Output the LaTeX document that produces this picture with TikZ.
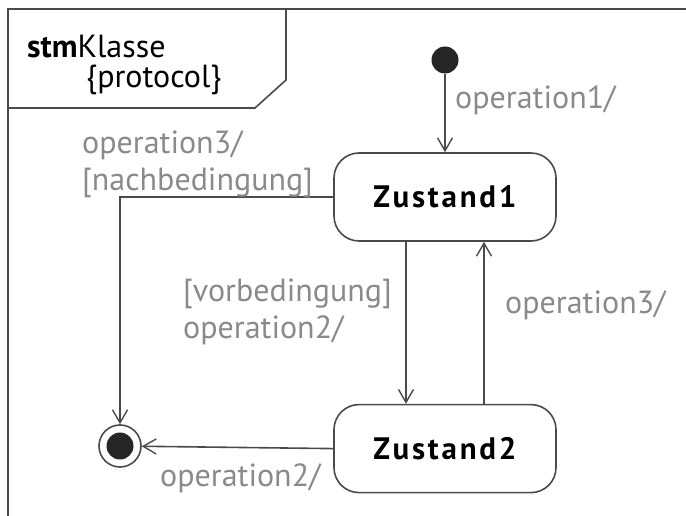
\documentclass[tikz,border=0pt]{standalone}
\usepackage{fontspec}
\setmainfont{PT Sans}
\usepackage{xcolor}
\usepackage{tikz}
\usetikzlibrary{arrows.meta,positioning}
\definecolor{framegray}{HTML}{4A4A4A}
\definecolor{labelgray}{HTML}{8A8A8A}
\tikzset{
  zustand/.style={
    rectangle,
    rounded corners=25pt,
    draw=framegray,
    line width=1.6pt,
    minimum width=222pt,
    minimum height=88pt,
    align=center,
    font=\fontsize{31}{36}\selectfont\bfseries\addfontfeature{LetterSpace=9}
  },
  trans/.style={
    text=labelgray,
    align=left,
    inner sep=0pt,
    anchor=west,
    font=\fontsize{32}{37}\selectfont
  },
  arrow/.style={-{Straight Barb[length=13pt,width=15pt,line width=1.4pt]}, line width=1.6pt, draw=framegray}
}

\begin{document}
\begin{tikzpicture}[x=1pt,y=-1pt]

\useasboundingbox (0,0) rectangle (686,516);

% frame and header
\draw[framegray, line width=2pt] (686,9) -- (8,9) -- (8,516);
\draw[framegray, line width=1.6pt] (8,108) -- (255,108) -- (286,80) -- (286,9);
\node[anchor=base west, inner sep=0pt, font=\fontsize{32}{37}\selectfont] (title) at (27,58) {\textbf{stm}Klasse};
\node[anchor=base west, inner sep=0pt, font=\fontsize{32}{37}\selectfont] (proto) at (86,88) {\{protocol\}};

% states
\node[circle, fill=black!85, minimum size=27pt, inner sep=0pt] (init) at (445,60) {};
\node[zustand] (zustand1) at (445,197) {Zustand1};
\node[zustand, below=162pt of zustand1] (zustand2) {Zustand2};
\node[circle, draw=framegray, line width=1.6pt, minimum size=42pt, inner sep=0pt] (final) at (120,446) {};
\node[circle, fill=black!85, minimum size=27pt, inner sep=0pt] (finaldot) at (final) {};

% transitions
\draw[arrow] (init) -- (init |- zustand1.north);
\draw[arrow] (zustand1.west) -| (final);
\draw[arrow] ([xshift=-39pt]zustand1.south) -- ([xshift=-39pt]zustand2.north);
\draw[arrow] ([xshift=39pt]zustand2.north) -- ([xshift=39pt]zustand1.south);
\draw[arrow] (zustand2.west) -- (final);

% labels
\node[trans] (op1) at (455,100) {operation1/};
\node[trans] (op3a) at (82,164) {operation3/\\{}[nachbedingung]};
\node[trans] (op2a) at (183,312) {[vorbedingung]\\operation2/};
\node[trans] (op3b) at (505,305) {operation3/};
\node[trans] (op2b) at (160,478) {operation2/};

\end{tikzpicture}
\end{document}
